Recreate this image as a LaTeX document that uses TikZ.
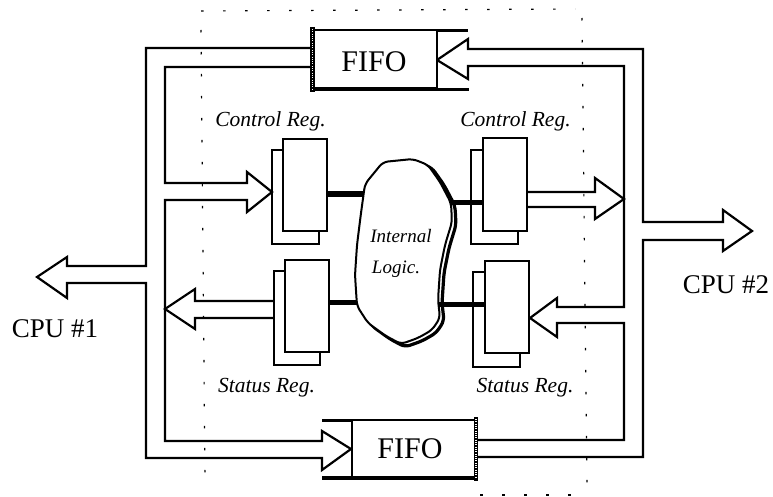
\documentclass[tikz,border=0pt]{standalone}
\usepackage{fontspec}
\setmainfont{Liberation Serif}
\usetikzlibrary{calc}
\begin{document}
\begin{tikzpicture}[x=1pt,y=-1pt,
  bus/.style={line width=2.2pt, line join=miter},
  regbox/.style={draw, line width=2pt, fill=white, minimum width=44pt, minimum height=92pt, inner sep=0pt},
  backbox/.style={draw, line width=2pt},
  link/.style={line width=5pt},
  fifobox/.style={draw, line width=2pt, fill=white, minimum width=123pt, minimum height=58pt, inner sep=0pt},
  dotline/.style={line width=1.2pt, dash pattern=on 2.5pt off 19.5pt},
  lab/.style={font=\fontsize{27}{30}\selectfont, anchor=base},
  fifolab/.style={font=\fontsize{30}{32}\selectfont, anchor=base},
  reglab/.style={font=\itshape\fontsize{21.5}{24}\selectfont, anchor=base},
  logiclab/.style={font=\itshape\fontsize{19}{22}\selectfont, anchor=base},
  hatch/.style={white, line width=1.6pt, dash pattern=on 1pt off 1.3pt},
  blobline/.style={rounded corners=5pt},
]
\useasboundingbox (0,0) rectangle (773,497);

% dotted frame
\draw[dotline] (201,11) -- (575,9);
\draw[dotline] (201,30) -- (205,482);
\draw[dotline] (582,18) -- (587,490);
\draw[dotline] (480,495) -- (583,495);

% left bus
\draw[bus] (313,48) -- (146,48) -- (146,266) -- (67,266) -- (67,257) -- (37,277)
  -- (67,298) -- (67,283) -- (146,283) -- (146,458) -- (322,458) -- (322,470)
  -- (351,449) -- (322,431) -- (322,441) -- (165,441) -- (165,200) -- (247,200)
  -- (247,212) -- (272,192) -- (247,172) -- (247,183) -- (165,183) -- (165,67) -- (313,67);
% left status arrow
\draw[bus] (274,301) -- (195,301) -- (195,289) -- (165,309) -- (195,329) -- (195,318) -- (274,318);

% right bus
\draw[bus] (476,440) -- (624,440) -- (624,323) -- (557,323) -- (557,337) -- (530,318)
  -- (557,298) -- (557,307) -- (624,307) -- (624,66) -- (468,66) -- (468,79)
  -- (437,60) -- (468,39) -- (468,49) -- (643,49) -- (643,222) -- (723,222)
  -- (723,210) -- (752,231) -- (723,251) -- (723,240) -- (643,240) -- (643,457) -- (476,457);
% right control arrow
\draw[bus] (526,192) -- (595,192) -- (595,178) -- (624,199) -- (595,219) -- (595,207) -- (526,207);

% register back boxes
\draw[backbox] (272,150) rectangle (319,244);
\draw[backbox] (274,271) rectangle (320,365);
\draw[backbox] (471,150) rectangle (518,244);
\draw[backbox] (473,272) rectangle (520,367);

% register front boxes
\node[regbox] (cl) at (305,185) {};
\node[regbox] (sl) at (307,306) {};
\node[regbox] (cr) at (504.5,184.5) {};
\node[regbox] (sr) at (506.5,306.5) {};

% links to internal logic
\coordinate (bA) at (372,194);
\coordinate (bB) at (366,302);
\coordinate (bC) at (438,202);
\coordinate (bD) at (430,304);
\draw[link] (cl.east |- bA) -- (bA);
\draw[link] (sl.east |- bB) -- (bB);
\draw[link] (bC) -- (cr.west |- bC);
\draw[link] (bD) -- (sr.west |- bD);

% internal logic blob
\def\blobpath{(365,184) -- (383,162) -- (413,159) -- (428,165) -- (440,182) -- (451,203) -- (452,222)
  -- (445,245) -- (440,270) -- (438,300) -- (440,318) -- (432,330) -- (418,338) -- (401,344) -- (386,336)
  -- (368,323) -- (357,306) -- (355,275) -- (357,245) -- (361,213) -- cycle}
\draw[line width=3.2pt, blobline, shift={(4,3)}] \blobpath;
\draw[line width=2pt, fill=white, blobline] \blobpath;
\node[logiclab] (li) at (401,242) {Internal};
\node[logiclab] (lg) at (396,273) {Logic.};

% FIFO top
\draw[line width=3.5pt] (311,89.5) -- (469,89.5);
\draw[line width=3pt] (437,31) -- (468,31);
\node[fifobox] (fifoT) at (375,59) {};
\draw[line width=4.5pt] (fifoT.north west) ++(0,-2) -- ($(fifoT.south west)+(0,3)$);
\draw[hatch] (fifoT.north west) -- (fifoT.south west);
\node[fifolab] (ft) at (374,72) {FIFO};

% FIFO bottom
\draw[line width=3.5pt] (322,478) -- (477,478);
\draw[line width=3pt] (322,420.5) -- (352,420.5);
\node[fifobox, minimum height=57pt] (fifoB) at (413.5,448.5) {};
\draw[line width=4.5pt] (fifoB.north east) ++(0,-2) -- ($(fifoB.south east)+(0,3)$);
\draw[hatch] (fifoB.north east) -- (fifoB.south east);
\node[fifolab] (fb) at (410,458) {FIFO};

% labels
\node[reglab] (lcl) at (270.5,127) {Control Reg.};
\node[reglab] (lcr) at (515.5,127) {Control Reg.};
\node[reglab] (lsl) at (266.5,392) {Status Reg.};
\node[reglab] (lsr) at (525,392) {Status Reg.};
\node[lab] (cpu1) at (55,337) {CPU \#1};
\node[lab] (cpu2) at (726,293) {CPU \#2};
\end{tikzpicture}
\end{document}
